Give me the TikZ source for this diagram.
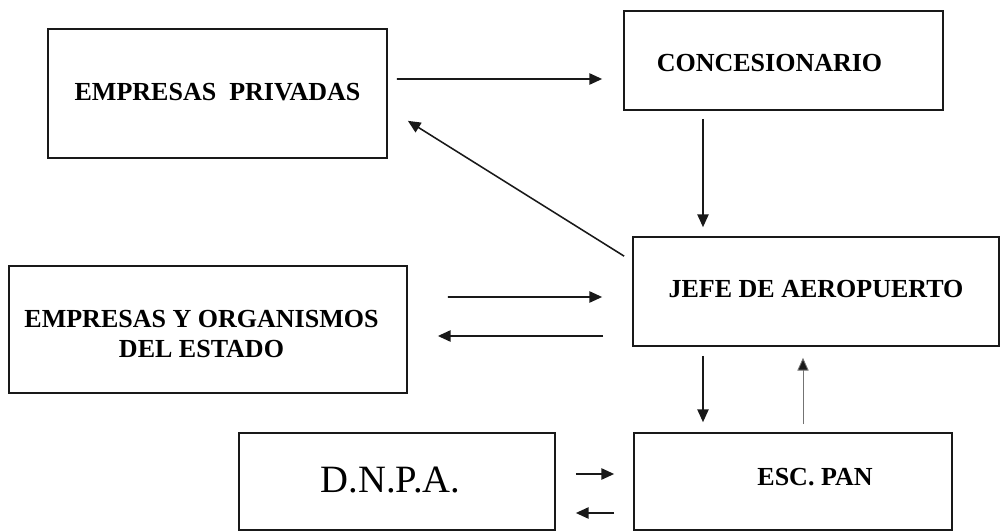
\documentclass[tikz,border=0pt]{standalone}
\usepackage{fontspec}
\setmainfont{Liberation Serif}
\usetikzlibrary{arrows.meta,calc}
\begin{document}
\begin{tikzpicture}[x=0.025cm,y=-0.025cm,
  box/.style={draw=black!90,line width=1.2pt,inner sep=0pt,
    minimum width=#1},
  lbl/.style={inner sep=0pt,font=\bfseries\fontsize{18.5}{21.5}\selectfont,
    align=center,text=black},
  arr/.style={draw=black!90,line width=1.1pt,
    -{Triangle[length=9pt,width=8pt]}},
  thin arr/.style={arr,line width=0.8pt},
  faint arr/.style={arr,line width=0.6pt,draw=black!55,
    -{Triangle[length=9pt,width=8pt,fill=black!90]}}]
\useasboundingbox (0,0) rectangle (1001,531);

% boxes
\node[box=8.475cm,minimum height=3.225cm] (priv) at (217.5,93.5) {};
\node[box=7.975cm,minimum height=2.475cm] (conc) at (783.5,60.5) {};
\node[box=9.15cm,minimum height=2.725cm] (jefe) at (816,291.5) {};
\node[box=9.95cm,minimum height=3.175cm] (org) at (208,329.5) {};
\node[box=7.9cm,minimum height=2.425cm] (dnpa) at (397,481.5) {};
\node[box=7.95cm,minimum height=2.425cm] (esc) at (793,481.5) {};

% labels
\node[lbl] (privT) at (217.5,92) {EMPRESAS\ \ PRIVADAS};
\node[lbl] (concT) at (769.5,63) {CONCESIONARIO};
\node[lbl] (jefeT) at (816,289) {JEFE DE AEROPUERTO};
\node[lbl] (orgT) at (201.5,334) {EMPRESAS Y ORGANISMOS\\DEL ESTADO};
\node[inner sep=0pt,font=\fontsize{27.5}{30}\selectfont,text=black] (dnpaT) at (390.5,480) {D.N.P.A.};
\node[lbl] (escT) at (815,477) {ESC. PAN};

% connectors
\draw[arr] ($(priv.east)+(9,-14.5)$) -- ($(conc.west)+(-21,18.5)$);
\draw[thin arr] ($(conc.south)+(-80.5,8)$) -- ($(jefe.north)+(-113,-9)$);
\draw[arr] ($(jefe.north west)+(-8,20)$) -- ($(priv.south east)+(20,-38)$);
\draw[arr] ($(org.east)+(40,-32.5)$) -- ($(jefe.west)+(-30,5.5)$);
\draw[arr] ($(jefe.west)+(-29,44.5)$) -- ($(org.east)+(30,6.5)$);
\draw[thin arr] ($(jefe.south)+(-113,9)$) -- ($(esc.north)+(-90,-10)$);
\draw[faint arr] ($(esc.north)+(10,-8)$) -- ($(jefe.south)+(-13,11)$);
\draw[arr] ($(dnpa.east)+(20,-7.5)$) -- ($(esc.west)+(-19,-7.5)$);
\draw[arr] ($(esc.west)+(-19,31.5)$) -- ($(dnpa.east)+(20,31.5)$);
\end{tikzpicture}
\end{document}
